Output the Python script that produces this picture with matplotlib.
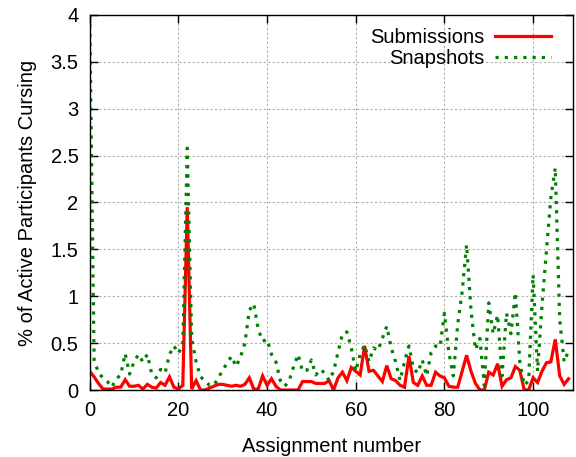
import matplotlib
matplotlib.use("Agg")
import matplotlib.pyplot as plt
import numpy as np

plt.rcParams['font.family'] = ['Liberation Sans', 'DejaVu Sans']

submissions = [
    0.20, 0.14, 0.07, 0.01, 0.01, 0.01, 0.03, 0.03, 0.11, 0.04,
    0.04, 0.05, 0.01, 0.06, 0.03, 0.02, 0.08, 0.05, 0.14, 0.03,
    0.01, 0.05, 1.95, 0.01, 0.10, 0.00, 0.00, 0.02, 0.04, 0.06,
    0.06, 0.05, 0.04, 0.05, 0.04, 0.06, 0.13, 0.01, 0.01, 0.15,
    0.05, 0.12, 0.04, 0.00, 0.00, 0.00, 0.00, 0.00, 0.09, 0.09,
    0.09, 0.07, 0.07, 0.07, 0.10, 0.00, 0.13, 0.19, 0.10, 0.24,
    0.20, 0.16, 0.47, 0.20, 0.21, 0.15, 0.09, 0.26, 0.12, 0.10,
    0.05, 0.03, 0.36, 0.08, 0.05, 0.15, 0.05, 0.05, 0.19, 0.15,
    0.13, 0.04, 0.03, 0.03, 0.20, 0.37, 0.20, 0.07, 0.00, 0.00,
    0.19, 0.16, 0.28, 0.04, 0.11, 0.13, 0.25, 0.21, 0.00, 0.00,
    0.13, 0.08, 0.20, 0.29, 0.30, 0.54, 0.15, 0.06, 0.12,
]

snapshots = [
    4.00, 0.32, 0.18, 0.13, 0.09, 0.03, 0.12, 0.16, 0.39, 0.17,
    0.30, 0.38, 0.30, 0.38, 0.17, 0.13, 0.22, 0.18, 0.38, 0.47,
    0.39, 0.48, 2.58, 0.55, 0.30, 0.14, 0.10, 0.05, 0.05, 0.13,
    0.21, 0.29, 0.36, 0.25, 0.35, 0.50, 0.85, 0.92, 0.65, 0.52,
    0.54, 0.38, 0.30, 0.10, 0.04, 0.10, 0.25, 0.38, 0.20, 0.21,
    0.32, 0.16, 0.22, 0.18, 0.10, 0.20, 0.40, 0.60, 0.62, 0.45,
    0.20, 0.38, 0.48, 0.30, 0.45, 0.42, 0.55, 0.68, 0.45, 0.30,
    0.10, 0.30, 0.47, 0.23, 0.18, 0.32, 0.15, 0.40, 0.47, 0.46,
    0.82, 0.40, 0.15, 0.70, 1.05, 1.55, 0.85, 0.43, 0.55, 0.05,
    0.93, 0.60, 0.80, 0.15, 0.82, 0.60, 1.04, 0.30, 0.05, 0.10,
    1.23, 0.20, 0.90, 1.48, 2.05, 2.37, 0.75, 0.30, 0.42,
]

assignments = np.arange(len(submissions))
xticks = [0, 20, 40, 60, 80, 100]
yticks = [0, 0.5, 1, 1.5, 2, 2.5, 3, 3.5, 4]
yticklabels = ["0", "0.5", "1", "1.5", "2", "2.5", "3", "3.5", "4"]

FS = 14.5

fig = plt.figure(figsize=(5.76, 4.57), dpi=100)
ax = fig.add_axes([0.1557, 0.1466, 0.8391, 0.8206])

ax.plot(assignments, submissions, color="#ff0000", lw=2.3, label="Submissions",
        solid_joinstyle="miter")
ax.plot(assignments, snapshots, color="#008000", lw=2.3, linestyle=(0, (1, 1.9)),
        dash_capstyle="butt", label="Snapshots")

ax.set_xlim(0, 109)
ax.set_ylim(0, 4)
ax.set_xticks(xticks)
ax.set_yticks(yticks)
ax.set_yticklabels(yticklabels)
ax.tick_params(direction="in", length=6, width=1, top=True, right=True,
               labelsize=FS, pad=8, colors="black")
ax.grid(True, color="#b0b0b0", linestyle=(0, (2, 2)), linewidth=0.8)
ax.set_axisbelow(True)
for s in ax.spines.values():
    s.set_linewidth(1.0)
    s.set_color("black")

ax.set_xlabel("Assignment number", fontsize=FS, labelpad=12)
ax.set_ylabel("% of Active Participants Cursing", fontsize=FS, labelpad=10)

leg = ax.legend(loc="upper right", bbox_to_anchor=(0.99, 1.012), frameon=False,
                markerfirst=False, fontsize=FS, handlelength=2.8,
                handletextpad=0.5, labelspacing=0.12, borderaxespad=0.45)

fig.savefig("out.png", dpi=100)
